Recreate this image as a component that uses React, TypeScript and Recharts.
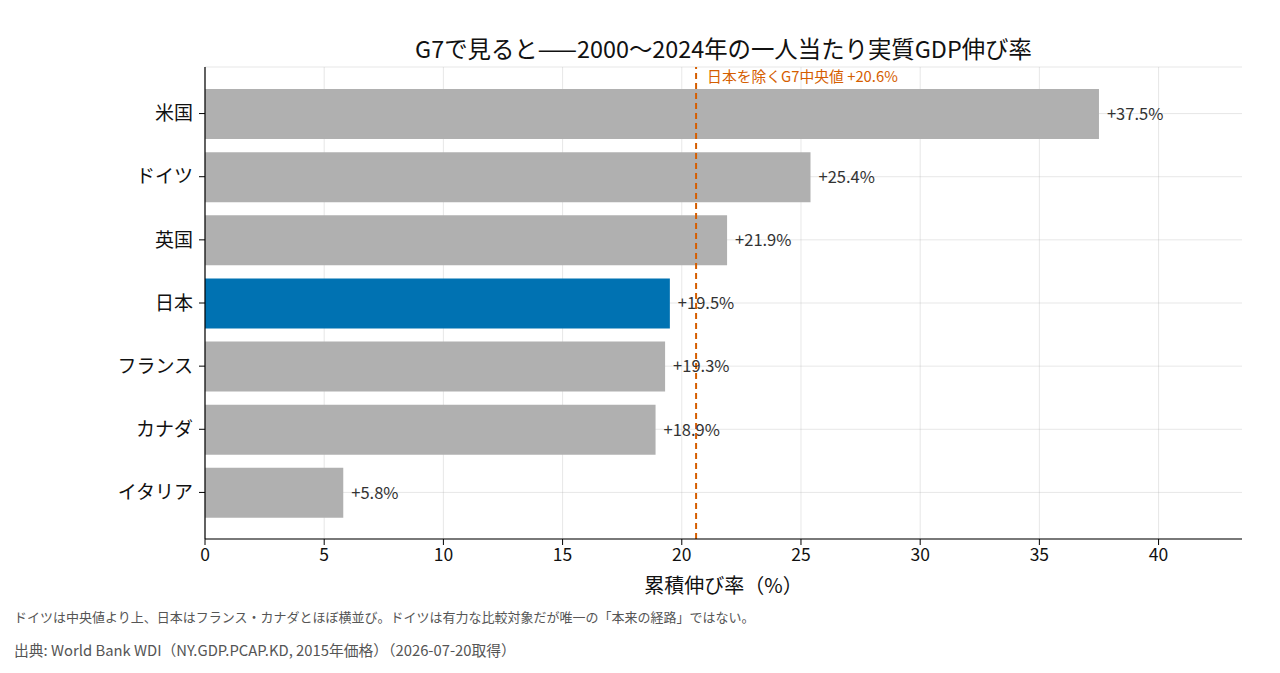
import React from 'react';
import { BarChart, Bar, XAxis, YAxis, CartesianGrid, ReferenceLine, LabelList, Cell } from 'recharts';

const countries = ['米国', 'ドイツ', '英国', '日本', 'フランス', 'カナダ', 'イタリア'];
const growth = [37.5, 25.4, 21.9, 19.5, 19.3, 18.9, 5.8];
const highlight = '日本';
const medianExJapan = 20.6;
const xTicks = [0, 5, 10, 15, 20, 25, 30, 35, 40];

const titleText = 'G7で見ると——2000〜2024年の一人当たり実質GDP伸び率';
const xLabelText = '累積伸び率（%）';
const medianLabel = '日本を除くG7中央値 +20.6%';
const note1 = 'ドイツは中央値より上、日本はフランス・カナダとほぼ横並び。ドイツは有力な比較対象だが唯一の「本来の経路」ではない。';
const note2 = '出典: World Bank WDI（NY.GDP.PCAP.KD, 2015年価格）（2026-07-20取得）';

const data = countries.map((c, i) => ({ name: c, value: growth[i] }));

const FONT = '"Noto Sans CJK JP", "Noto Sans", sans-serif';

const MedianLabel = (props: any) => {
  const vb = props.viewBox || {};
  return (
    <text x={vb.x + 11} y={vb.y + 15} fill="#D55E00" fontSize={14.8} fontFamily={FONT}>
      {medianLabel}
    </text>
  );
};

export default function App() {
  return (
    <div style={{ position: 'absolute', left: 0, top: 0, width: 1280, height: 673, background: '#fff', fontFamily: FONT }}>
      <div style={{ position: 'absolute', left: 205, width: 1037, top: 33, textAlign: 'center', fontSize: 23.4, color: '#111', lineHeight: '30px', whiteSpace: 'nowrap' }}>
        {titleText}
      </div>
      <BarChart
        width={1280}
        height={673}
        data={data}
        layout="vertical"
        margin={{ top: 67, right: 38, bottom: 104, left: 85 }}
        barSize={50}
      >
        <XAxis
          type="number"
          domain={[0, 43.5]}
          ticks={xTicks}
          allowDataOverflow
          height={30}
          stroke="#000"
          tickSize={6}
          tickMargin={4}
          tick={{ fill: '#111', fontSize: 17.5, fontFamily: FONT }}
          tickLine={{ stroke: '#000' }}
          axisLine={{ stroke: '#000', strokeWidth: 1.2 }}
        />
        <YAxis
          type="category"
          dataKey="name"
          width={120}
          padding={{ top: 15, bottom: 15 }}
          stroke="#000"
          tickSize={6}
          tickMargin={6}
          tick={{ fill: '#111', fontSize: 19, fontFamily: FONT }}
          tickLine={{ stroke: '#000' }}
          axisLine={{ stroke: '#000', strokeWidth: 1.2 }}
        />
        <Bar dataKey="value" isAnimationActive={false}>
          {data.map((d) => (
            <Cell key={d.name} fill={d.name === highlight ? '#0072B2' : '#b0b0b0'} />
          ))}
          <LabelList
            dataKey="value"
            position="right"
            offset={8}
            formatter={(v: any) => `+${Number(v).toFixed(1)}%`}
            style={{ fill: '#333', fontSize: 16.5, fontFamily: FONT }}
          />
        </Bar>
        <CartesianGrid stroke="#b0b0b0" strokeOpacity={0.3} verticalValues={xTicks} />
        <ReferenceLine
          x={medianExJapan}
          stroke="#D55E00"
          strokeWidth={2}
          strokeDasharray="6 4"
          label={<MedianLabel />}
        />
      </BarChart>
      <div style={{ position: 'absolute', left: 205, width: 1037, top: 572, textAlign: 'center', fontSize: 20, color: '#111', lineHeight: '26px' }}>
        {xLabelText}
      </div>
      <div style={{ position: 'absolute', left: 14, top: 607, fontSize: 13, color: '#555', lineHeight: '20px', whiteSpace: 'nowrap' }}>
        {note1}
      </div>
      <div style={{ position: 'absolute', left: 14, top: 640, fontSize: 14.8, color: '#555', lineHeight: '20px', whiteSpace: 'nowrap' }}>
        {note2}
      </div>
    </div>
  );
}
